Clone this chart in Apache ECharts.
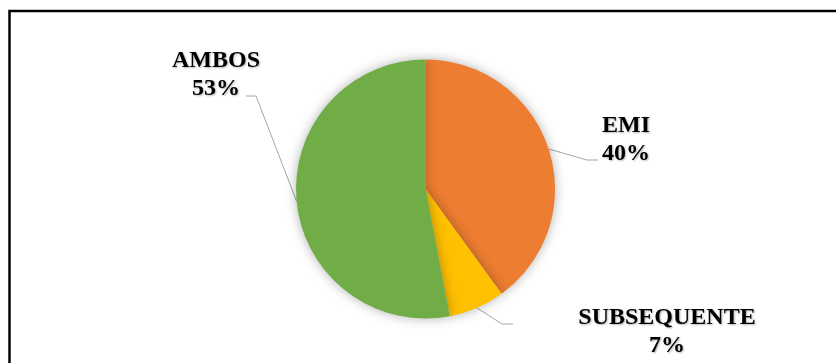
<!DOCTYPE html>
<html>
<head>
<meta charset="utf-8">
<script src="https://cdn.jsdelivr.net/npm/echarts@6/dist/echarts.min.js"></script>
<style>
  html, body { margin: 0; padding: 0; background: #fff; }
  #chart { width: 836px; height: 363px; }
</style>
</head>
<body>
<div id="chart"></div>
<script>
// dados do gráfico
const categorias = ['EMI', 'SUBSEQUENTE', 'AMBOS']
const valores = [40, 7, 53]
const cores = ['#ED7D31', '#FFC000', '#70AD47']

// posição dos rótulos (centro do bloco de texto) e do trecho horizontal da linha guia
const rotulos = {
  EMI: { x: 626, y: 140, dobra: [587, 160], fim: [598, 160] },
  SUBSEQUENTE: { x: 667, y: 332, dobra: [502, 324], fim: [513, 324] },
  AMBOS: { x: 216, y: 75, dobra: [256, 96], fim: [246, 96] }
}

const chart = echarts.init(document.getElementById('chart'))

const option = {
  animation: false,
  backgroundColor: '#fff',
  graphic: [{
    type: 'rect',
    shape: { x: 9.5, y: 11, width: 900, height: 400 },
    style: { fill: 'none', stroke: '#000', lineWidth: 2.5 },
    silent: true
  }],
  series: [{
    type: 'pie',
    center: [425.5, 189],
    radius: 129.5,
    startAngle: 90,
    clockwise: true,
    emphasis: { disabled: true },
    data: categorias.map((nome, i) => ({
      name: nome,
      value: valores[i],
      itemStyle: { color: cores[i] }
    })),
    itemStyle: {
      shadowBlur: 12,
      shadowColor: 'rgba(0,0,0,0.3)'
    },
    label: {
      show: true,
      position: 'outside',
      formatter: '{b}\n{d}%',
      fontFamily: 'Liberation Serif',
      fontWeight: 'bold',
      fontSize: 24,
      lineHeight: 28,
      color: '#000',
      align: 'center',
      textShadowColor: 'rgba(0,0,0,0.3)',
      textShadowBlur: 2,
      textShadowOffsetX: 1,
      textShadowOffsetY: 1
    },
    labelLine: {
      show: true,
      lineStyle: { color: '#a6a6a6', width: 1 }
    },
    labelLayout: function (params) {
      const r = rotulos[categorias[params.dataIndex]]
      const p0 = params.labelLinePoints ? params.labelLinePoints[0] : r.dobra
      return {
        x: r.x,
        y: r.y,
        align: 'center',
        verticalAlign: 'middle',
        labelLinePoints: [p0, r.dobra, r.fim]
      }
    }
  }]
}

chart.setOption(option)
</script>
</body>
</html>
